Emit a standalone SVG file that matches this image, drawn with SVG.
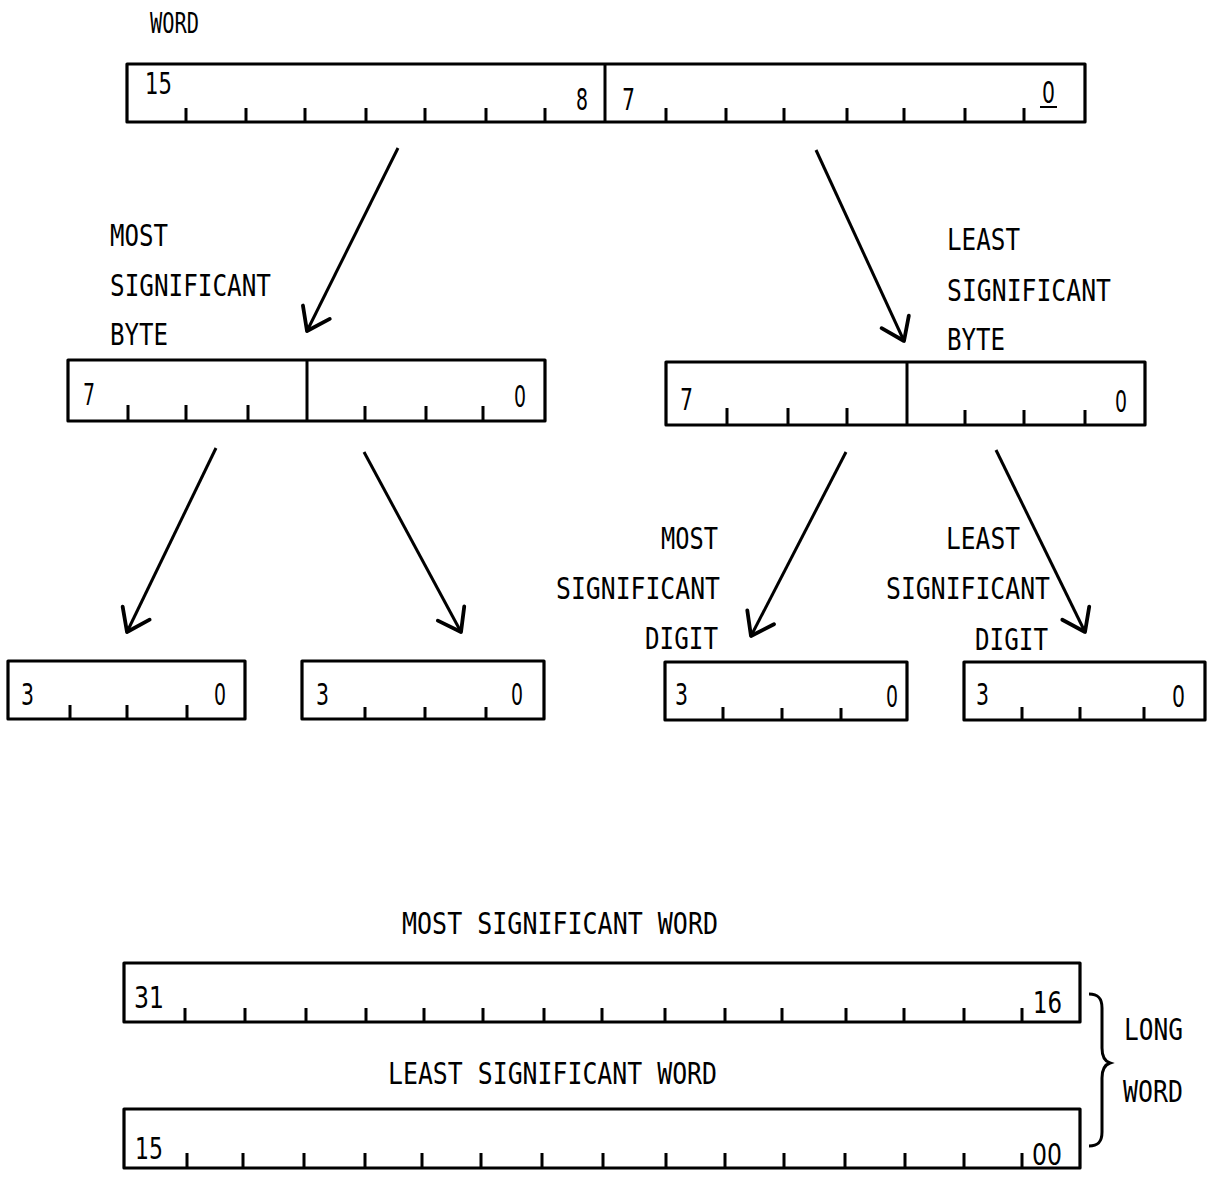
<svg xmlns="http://www.w3.org/2000/svg" width="1217" height="1178" viewBox="0 0 1217 1178">
<style>
.box{fill:none;stroke:#000;stroke-width:3.2;stroke-linejoin:round}
.tk{fill:none;stroke:#000;stroke-width:3}
.ln{fill:none;stroke:#000;stroke-width:3}
text{font-family:"DejaVu Sans Mono","Liberation Mono",monospace;font-size:30px;fill:#000}
text.d{font-family:"DejaVu Sans","Liberation Sans",sans-serif}
</style>
<defs>
<marker id="ah" markerUnits="userSpaceOnUse" markerWidth="40" markerHeight="40" viewBox="-30 -20 34 40" refX="0" refY="0" orient="auto">
<path d="M-21,-15 L0,0 L-21,15" fill="none" stroke="#000" stroke-width="3.8" stroke-linecap="round" stroke-linejoin="round"/>
</marker>
</defs>
<rect width="1217" height="1178" fill="#fff"/>

<g id="word">
<text x="150" y="33" textLength="49" lengthAdjust="spacingAndGlyphs" style="font-size:28px">WORD</text>
<rect class="box" x="127" y="64" width="958" height="58"/>
<path class="tk" d="M605,64V122M186,108V122M246,108V122M305,108V122M366,108V122M425,108V122M486,108V122M545,108V122M666,108V122M726,108V122M784,108V122M847,108V122M904,108V122M965,108V122M1024,108V122"/>
<text class="d" x="145" y="94" textLength="27" lengthAdjust="spacingAndGlyphs">15</text>
<text class="d" x="576" y="110" textLength="12" lengthAdjust="spacingAndGlyphs">8</text>
<text class="d" x="622" y="110" textLength="13" lengthAdjust="spacingAndGlyphs">7</text>
<text class="d" x="1042" y="103" textLength="13" lengthAdjust="spacingAndGlyphs">0</text>
<path class="tk" d="M1040,107H1057" style="stroke-width:2"/>
</g>

<g id="msb">
<text x="110" y="246" textLength="58" lengthAdjust="spacingAndGlyphs">MOST</text>
<text x="110" y="296" textLength="161" lengthAdjust="spacingAndGlyphs">SIGNIFICANT</text>
<text x="110" y="345" textLength="58" lengthAdjust="spacingAndGlyphs">BYTE</text>
<rect class="box" x="68" y="360" width="477" height="61"/>
<path class="tk" d="M307,360V421M128,405V421M186,405V421M248,405V421M365,406V421M426,406V421M483,406V421"/>
<text class="d" x="83" y="405" textLength="12" lengthAdjust="spacingAndGlyphs">7</text>
<text class="d" x="514" y="407" textLength="12" lengthAdjust="spacingAndGlyphs">0</text>
</g>

<g id="lsb">
<text x="947" y="250" textLength="73" lengthAdjust="spacingAndGlyphs">LEAST</text>
<text x="947" y="301" textLength="164" lengthAdjust="spacingAndGlyphs">SIGNIFICANT</text>
<text x="947" y="350" textLength="58" lengthAdjust="spacingAndGlyphs">BYTE</text>
<rect class="box" x="666" y="362" width="479" height="63"/>
<path class="tk" d="M907,362V425M727,408V425M788,408V425M847,408V425M965,410V425M1024,410V425M1085,410V425"/>
<text class="d" x="680" y="410" textLength="13" lengthAdjust="spacingAndGlyphs">7</text>
<text class="d" x="1115" y="412" textLength="12" lengthAdjust="spacingAndGlyphs">0</text>
</g>

<g id="nib1">
<rect class="box" x="8" y="661" width="237" height="58"/>
<path class="tk" d="M70,705V719M127,705V719M187,705V719"/>
<text class="d" x="21" y="705" textLength="13" lengthAdjust="spacingAndGlyphs">3</text>
<text class="d" x="214" y="705" textLength="12" lengthAdjust="spacingAndGlyphs">0</text>
</g>

<g id="nib2">
<rect class="box" x="302" y="661" width="242" height="58"/>
<path class="tk" d="M365,707V719M425,707V719M486,707V719"/>
<text class="d" x="316" y="705" textLength="13" lengthAdjust="spacingAndGlyphs">3</text>
<text class="d" x="511" y="705" textLength="12" lengthAdjust="spacingAndGlyphs">0</text>
</g>

<g id="nib3">
<text x="661" y="549" textLength="57" lengthAdjust="spacingAndGlyphs">MOST</text>
<text x="556" y="599" textLength="164" lengthAdjust="spacingAndGlyphs">SIGNIFICANT</text>
<text x="645" y="649" textLength="73" lengthAdjust="spacingAndGlyphs">DIGIT</text>
<rect class="box" x="665" y="662" width="242" height="58"/>
<path class="tk" d="M723,707V720M782,708V720M841,708V720"/>
<text class="d" x="675" y="705" textLength="13" lengthAdjust="spacingAndGlyphs">3</text>
<text class="d" x="886" y="707" textLength="12" lengthAdjust="spacingAndGlyphs">0</text>
</g>

<g id="nib4">
<text x="946" y="549" textLength="74" lengthAdjust="spacingAndGlyphs">LEAST</text>
<text x="886" y="599" textLength="164" lengthAdjust="spacingAndGlyphs">SIGNIFICANT</text>
<text x="975" y="650" textLength="73" lengthAdjust="spacingAndGlyphs">DIGIT</text>
<rect class="box" x="964" y="662" width="241" height="58"/>
<path class="tk" d="M1022,707V720M1080,707V720M1144,707V720"/>
<text class="d" x="976" y="705" textLength="13" lengthAdjust="spacingAndGlyphs">3</text>
<text class="d" x="1172" y="707" textLength="13" lengthAdjust="spacingAndGlyphs">0</text>
</g>

<g id="msw">
<text x="402" y="934" textLength="316" lengthAdjust="spacingAndGlyphs">MOST SIGNIFICANT WORD</text>
<rect class="box" x="124" y="963" width="956" height="59"/>
<path class="tk" d="M185,1008V1022M245,1008V1022M306,1008V1022M366,1008V1022M424,1008V1022M483,1008V1022M544,1008V1022M602,1008V1022M665,1008V1022M725,1008V1022M782,1008V1022M846,1008V1022M904,1008V1022M964,1008V1022M1022,1008V1022"/>
<text class="d" x="134" y="1008" textLength="30" lengthAdjust="spacingAndGlyphs">31</text>
<text class="d" x="1033" y="1013" textLength="29" lengthAdjust="spacingAndGlyphs">16</text>
</g>

<g id="lsw">
<text x="388" y="1084" textLength="329" lengthAdjust="spacingAndGlyphs">LEAST SIGNIFICANT WORD</text>
<rect class="box" x="124" y="1109" width="956" height="59"/>
<path class="tk" d="M187,1153V1168M243,1153V1168M304,1153V1168M365,1153V1168M422,1153V1168M481,1153V1168M542,1153V1168M603,1153V1168M666,1153V1168M725,1153V1168M784,1153V1168M845,1153V1168M905,1153V1168M964,1153V1168M1022,1153V1168"/>
<text class="d" x="135" y="1159" textLength="28" lengthAdjust="spacingAndGlyphs">15</text>
<text class="d" x="1032" y="1165" textLength="30" lengthAdjust="spacingAndGlyphs">00</text>
</g>

<g id="longword">
<path class="ln" d="M1089,994 C1098,994 1102,998 1102,1008 L1102,1048 C1102,1056 1104,1061 1110,1063 C1104,1065 1102,1070 1102,1078 L1102,1132 C1102,1142 1098,1146 1089,1146"/>
<text x="1124" y="1040" textLength="59" lengthAdjust="spacingAndGlyphs">LONG</text>
<text x="1123" y="1102" textLength="60" lengthAdjust="spacingAndGlyphs">WORD</text>
</g>

<g id="connectors">
<path class="ln" d="M398,148 L307,331" marker-end="url(#ah)"/>
<path class="ln" d="M816,150 L904,341" marker-end="url(#ah)"/>
<path class="ln" d="M216,448 L127,632" marker-end="url(#ah)"/>
<path class="ln" d="M364,452 L461,632" marker-end="url(#ah)"/>
<path class="ln" d="M846,452 L751,636" marker-end="url(#ah)"/>
<path class="ln" d="M996,450 L1085,632" marker-end="url(#ah)"/>
</g>
</svg>
